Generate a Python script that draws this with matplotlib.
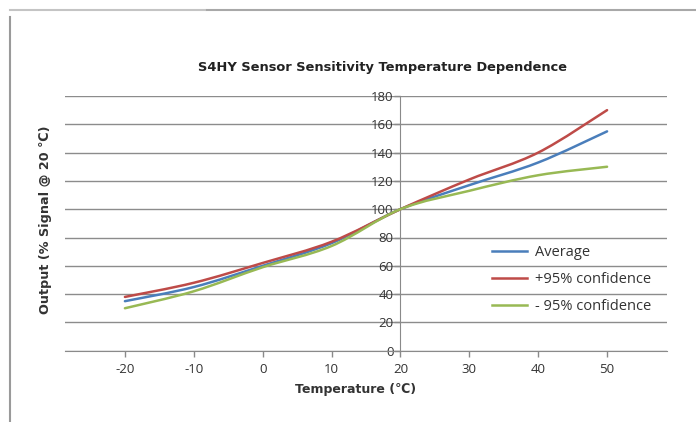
import matplotlib
matplotlib.use('Agg')
import matplotlib.pyplot as plt
from matplotlib.path import Path
from matplotlib.patches import PathPatch
from matplotlib.lines import Line2D

# data
temps = [-20, -10, 0, 10, 20, 30, 40, 50]
average = [35, 45, 60, 76, 100, 117, 133, 155]
upper_95 = [38, 48, 62, 77, 100, 121, 140, 170]
lower_95 = [30, 42, 59, 74, 100, 113, 124, 130]
series_names = ['Average', '+95% confidence', '- 95% confidence']
series_colors = ['#4a7ebb', '#be4b48', '#98b954']

W, H = 696, 422

plt.rcParams['axes.unicode_minus'] = False


def smooth_path(xs, ys):
    """Excel style smoothed line: bezier segments with catmull-rom control points"""
    pts = list(zip(xs, ys))
    verts = [pts[0]]
    codes = [Path.MOVETO]
    n = len(pts)
    for i in range(n - 1):
        p0 = pts[i - 1] if i > 0 else pts[i]
        p1 = pts[i]
        p2 = pts[i + 1]
        p3 = pts[i + 2] if i + 2 < n else pts[i + 1]
        c1 = (p1[0] + (p2[0] - p0[0]) / 6, p1[1] + (p2[1] - p0[1]) / 6)
        c2 = (p2[0] - (p3[0] - p1[0]) / 6, p2[1] - (p3[1] - p1[1]) / 6)
        verts += [c1, c2, p2]
        codes += [Path.CURVE4] * 3
    return Path(verts, codes)


fig = plt.figure(figsize=(W / 100, H / 100), dpi=100)
ax = fig.add_axes([65 / W, 71.3 / H, (667 - 65) / W, (350.7 - 96) / H])

tick_font = 'Open Sans'

#Draw the three smoothed series
for vals, name, color in zip([average, upper_95, lower_95], series_names, series_colors):
    patch = PathPatch(smooth_path(temps, vals), facecolor='none', edgecolor=color,
                      lw=1.8, transform=ax.transData, zorder=3, capstyle='round')
    ax.add_patch(patch)

ax.set_xlim(-28.7, 58.7)
ax.set_ylim(0, 180)
ax.set_xticks(temps)
ax.set_yticks(range(0, 181, 20))

#Axis lines cross at (20, 0) like the Excel chart
for side in ['top', 'right']:
    ax.spines[side].set_visible(False)
ax.spines['left'].set_position(('data', 20))
ax.spines['bottom'].set_position(('data', 0))
ax.spines['left'].set_color('#8a8a8a')
ax.spines['bottom'].set_color('#8a8a8a')
ax.spines['left'].set_zorder(1)

ax.yaxis.grid(True, color='#8c8c8c', lw=1.0)
ax.set_axisbelow(True)
ax.tick_params(axis='both', colors='#8a8a8a', length=4, width=1, labelcolor='#333333',
               labelsize=9.5)
ax.tick_params(axis='y', pad=1)
ax.tick_params(axis='x', pad=5)
for lbl in ax.get_xticklabels() + ax.get_yticklabels():
    lbl.set_fontfamily(tick_font)

fig.text(383 / W, 1 - 67 / H, 'S4HY Sensor Sensitivity Temperature Dependence',
         ha='center', va='center', fontsize=9.4, fontweight='bold', color='#222222')
fig.text(356 / W, 1 - 390 / H, 'Temperature (\u2103)', ha='center', va='center',
         fontsize=9, fontweight='bold', color='#333333')
fig.text(46 / W, 1 - 220 / H, 'Output (% Signal @ 20 \u2103)', ha='center', va='center',
         rotation=90, fontsize=9.2, fontweight='bold', color='#333333')

handles = [Line2D([], [], color=c, lw=1.8) for c in series_colors]
leg = ax.legend(handles, series_names, loc='upper left', frameon=False,
                bbox_to_anchor=(485 / W, 1 - 238 / H), bbox_transform=fig.transFigure,
                prop={'family': tick_font, 'size': 10.5}, handlelength=2.4,
                handletextpad=0.55, labelspacing=0.8, borderpad=0)
for t in leg.get_texts():
    t.set_color('#333333')

#Window frame around the screenshot
fig.add_artist(Line2D([10 / W, 10 / W], [0, 1 - 17 / H], transform=fig.transFigure,
                      color='#9a9a9a', lw=1.5))
fig.add_artist(Line2D([10 / W, 205 / W], [1 - 10 / H, 1 - 10 / H], transform=fig.transFigure,
                      color='#c4c4c4', lw=1.5))
fig.add_artist(Line2D([207 / W, 1], [1 - 9.5 / H, 1 - 9.5 / H], transform=fig.transFigure,
                      color='#a8a8a8', lw=1.5))

fig.savefig('out.png', dpi=100)
